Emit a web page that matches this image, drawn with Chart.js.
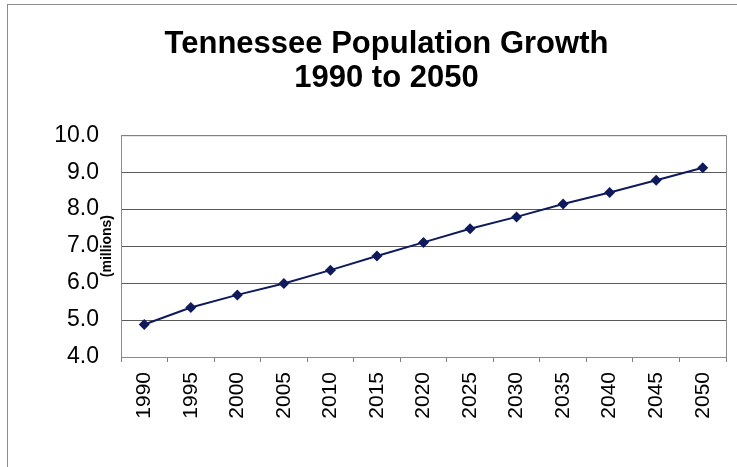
<!DOCTYPE html>
<html>
<head>
<meta charset="utf-8">
<script src="https://cdn.jsdelivr.net/npm/chart.js@4"></script>
<style>
    html, body { margin: 0; padding: 0; background: #fff; overflow: hidden; }
    #frame {
        position: absolute; left: 7px; top: 4px;
        width: 800px; height: 500px;
        border-left: 1px solid #8c8c8c; border-top: 1px solid #8c8c8c;
    }
    #popChart { position: absolute; left: 0; top: 0; }
</style>
</head>
<body>
<div id="frame"><canvas id="popChart" width="757" height="470"></canvas></div>
<script>
// Dữ liệu
const years = ['1990', '1995', '2000', '2005', '2010', '2015', '2020', '2025', '2030', '2035', '2040', '2045', '2050'];
const population = [4.88, 5.34, 5.68, 5.99, 6.35, 6.73, 7.10, 7.47, 7.79, 8.14, 8.45, 8.78, 9.12];
const titleLines = ['Tennessee Population Growth', '1990 to 2050'];
const yTitle = '(millions)';

const FONT = "'Liberation Sans', Arial, Helvetica, sans-serif";

// Khung viền vùng vẽ
const areaBorder = {
    id: 'areaBorder',
    afterDraw(chart) {
        const a = chart.chartArea;
        const ctx = chart.ctx;
        ctx.save();
        ctx.strokeStyle = '#8c8c8c';
        ctx.lineWidth = 1;
        ctx.strokeRect(a.left + 0.5, a.top + 0.5, a.right - a.left, a.bottom - a.top);
        ctx.restore();
    }
};

const ctx = document.getElementById('popChart').getContext('2d');
new Chart(ctx, {
    type: 'line',
    data: {
        labels: years,
        datasets: [{
            data: population,
            borderColor: '#0f1a5c',
            backgroundColor: '#0f1a5c',
            borderWidth: 2,
            tension: 0,
            pointStyle: 'rectRot',
            pointRadius: 5.5,
            pointBorderWidth: 0,
            pointBackgroundColor: '#0f1a5c'
        }]
    },
    options: {
        responsive: false,
        animation: false,
        devicePixelRatio: 1,
        plugins: {
            legend: { display: false },
            tooltip: { enabled: false },
            title: {
                display: true,
                text: titleLines,
                color: '#000',
                font: { family: FONT, size: 31, weight: 'bold', lineHeight: 1.1 },
                padding: { top: 22, bottom: 40 }
            }
        },
        scales: {
            x: {
                offset: true,
                grid: {
                    offset: true,
                    drawOnChartArea: false,
                    drawTicks: true,
                    tickLength: 5,
                    color: '#808080'
                },
                border: { display: true, color: '#808080' },
                ticks: {
                    autoSkip: false,
                    minRotation: 90,
                    maxRotation: 90,
                    padding: 10,
                    color: '#000',
                    font: { family: FONT, size: 21 }
                },
                afterFit(scale) { scale.height = 118; }
            },
            y: {
                min: 4,
                max: 10,
                grid: { color: '#5a5a5a', drawTicks: false },
                border: { display: true, color: '#808080' },
                ticks: {
                    stepSize: 1,
                    padding: 22,
                    color: '#000',
                    font: { family: FONT, size: 23 },
                    callback: function(value) { return value.toFixed(1); }
                },
                title: {
                    display: true,
                    text: yTitle,
                    color: '#000',
                    font: { family: FONT, size: 14, weight: 'bold' },
                    padding: { top: 91, bottom: 0 }
                },
                afterFit(scale) { scale.width = 113; }
            },
            // trục phụ bên phải chỉ để chừa khoảng trống
            yRight: {
                position: 'right',
                display: true,
                grid: { display: false },
                border: { display: false },
                ticks: { display: false },
                afterFit(scale) { scale.width = 39; }
            }
        }
    },
    plugins: [areaBorder]
});
</script>
</body>
</html>
